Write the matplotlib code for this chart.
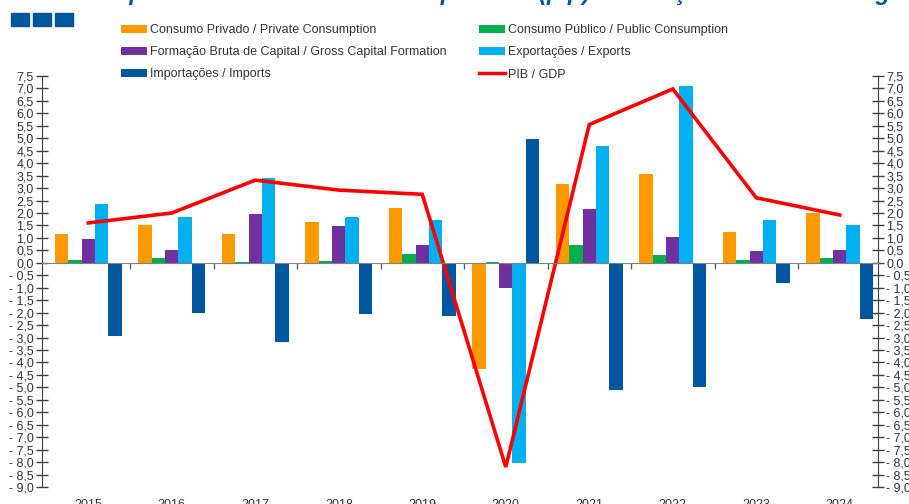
import numpy as np
import matplotlib
matplotlib.use('Agg')
import matplotlib.pyplot as plt
from matplotlib.patches import Patch
from matplotlib.lines import Line2D
from matplotlib.ticker import FuncFormatter, MultipleLocator, FixedLocator
import matplotlib.transforms as mtransforms

plt.rcParams['font.family'] = ['Liberation Sans Narrow', 'Liberation Sans', 'DejaVu Sans']

years = ['2015', '2016', '2017', '2018', '2019', '2020', '2021', '2022', '2023', '2024']
priv = [1.15, 1.52, 1.16, 1.64, 2.19, -4.28, 3.15, 3.56, 1.23, 2.01]
publ = [0.13, 0.20, 0.05, 0.08, 0.35, 0.05, 0.71, 0.30, 0.10, 0.18]
fbc = [0.97, 0.53, 1.97, 1.49, 0.71, -1.00, 2.15, 1.05, 0.46, 0.51]
expo = [2.37, 1.85, 3.41, 1.83, 1.73, -8.05, 4.70, 7.11, 1.72, 1.53]
impo = [-2.92, -2.01, -3.18, -2.04, -2.14, 4.98, -5.10, -4.97, -0.82, -2.25]
gdp = [1.60, 2.00, 3.32, 2.92, 2.75, -8.20, 5.55, 6.98, 2.61, 1.92]

labels = ['Consumo Privado / Private Consumption',
          'Consumo Público / Public Consumption',
          'Formação Bruta de Capital / Gross Capital Formation',
          'Exportações / Exports',
          'Importações / Imports',
          'PIB / GDP']
cols = ['#FF9900', '#00B050', '#7030A0', '#00B0F0', '#0057A0', '#FF0000']

fig = plt.figure(figsize=(9.09, 5.04), dpi=100)
ax = fig.add_axes([42/909, 1-487/504, (878-42)/909, (487-76)/504])

x = np.arange(len(years))
w = 0.16
series = [priv, publ, fbc, expo, impo]
for k, s in enumerate(series):
    ax.bar(x + (k-2)*w, s, w, color=cols[k], linewidth=0, zorder=2)
ax.plot(x, gdp, color=cols[5], lw=2.6, zorder=3, solid_joinstyle='miter')

ax.set_xlim(-0.554, 9.458)
ax.set_ylim(-9, 7.5)

def fmt(v, pos):
    s = ('%.1f' % abs(v)).replace('.', ',')
    return ('- ' + s) if v < -1e-9 else s

ax.yaxis.set_major_locator(MultipleLocator(0.5))
ax.yaxis.set_major_formatter(FuncFormatter(fmt))
ax.tick_params(axis='y', left=True, right=True, labelleft=True, labelright=True,
               direction='inout', length=8, width=1, color='#404040',
               labelsize=9, pad=2, labelcolor='#333333')

ax.spines['top'].set_visible(False)
ax.spines['left'].set_color('#404040')
ax.spines['right'].set_color('#404040')
ax.spines['bottom'].set_position(('data', 0))
ax.spines['bottom'].set_color('#808080')
ax.spines['bottom'].set_zorder(4)

ax.xaxis.set_major_locator(FixedLocator(np.arange(len(years) - 1) + 0.5))
ax.tick_params(axis='x', direction='out', length=4, width=1, color='#606060', labelbottom=False)

trans = mtransforms.blended_transform_factory(ax.transData, ax.transAxes)
for i, yr in enumerate(years):
    ax.text(i, -0.029, yr, transform=trans, ha='center', va='top', fontsize=9, color='#333333')

# legend in two separate columns
hs = [Patch(facecolor=c, edgecolor='none') for c in cols[:5]] + [Line2D([], [], color=cols[5], lw=2.5)]
legkw = dict(loc='upper left', frameon=False, fontsize=9, handlelength=2.1, handleheight=0.6,
             handletextpad=0.2, labelspacing=0.82, borderaxespad=0, borderpad=0)
leg1 = fig.legend([hs[0], hs[2], hs[4]], [labels[0], labels[2], labels[4]],
                  bbox_to_anchor=(121/909, 1-24/504), **legkw)
leg2 = fig.legend([hs[1], hs[3], hs[5]], [labels[1], labels[3], labels[5]],
                  bbox_to_anchor=(479/909, 1-24/504), **legkw)
for lg in (leg1, leg2):
    for t in lg.get_texts():
        t.set_color('#333333')

# three blue squares
for px in [11, 33, 55]:
    fig.patches.append(plt.Rectangle((px/909, 1-26/504), 18/909, 13/504,
                                     transform=fig.transFigure, color='#0057A0'))

# title, clipped at the top edge
fig.text(0.085, 1.0, 'Componentes do PIB / GDP components (p/p) e Variação / Rate of change (%)',
         ha='left', va='baseline', fontsize=17, fontweight='bold', fontstyle='italic', color='#0057A0')

fig.savefig('out.png', dpi=100)
